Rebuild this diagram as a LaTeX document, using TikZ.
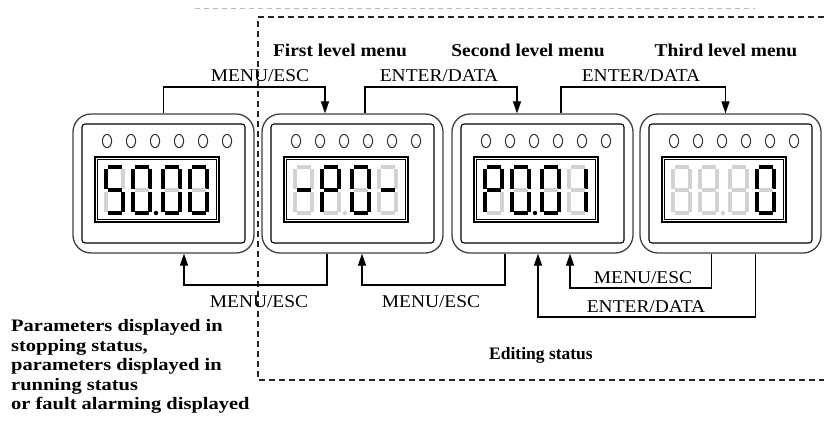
\documentclass[tikz,border=0pt]{standalone}
\usepackage{fontspec}
\setmainfont{Liberation Serif}
\usetikzlibrary{arrows.meta,calc}

\tikzset{
  devbox/.style={draw=black!75, line width=1.3pt, rounded corners=18pt, minimum width=181pt, minimum height=139pt, inner sep=0pt},
  panel/.style={draw=black, line width=1.1pt, rounded corners=3pt},
  led/.style={draw=black!80, line width=1pt},
  conn/.style={draw=black, line width=1.2pt},
  arr/.style={-{Triangle[length=12pt,width=8pt]}},
  lbl/.style={font=\fontsize{18}{20}\selectfont, inner sep=0pt},
  ttl/.style={font=\fontsize{18}{20}\selectfont\bfseries, inner sep=0pt},
  note/.style={font=\fontsize{17.5}{19.5}\selectfont\bfseries, inner sep=0pt},
  sk/.style={fill=black},
  sg/.style={fill=gray!35},
  dashbox/.style={draw=black!85, line width=1.4pt, dash pattern=on 6pt off 4pt},
}

\newcommand\sx[1]{\scalebox{1.08}[1]{#1}}

\newcommand\devpanel[2]{%
  \node[devbox] (#1) at ({#2+90.5},183.5) {};
  \draw[panel] ({#2+9},124) rectangle ({#2+172},243);
  \foreach \k in {0,...,5} \draw[led] ({#2+34+24*\k},141) ellipse (4.6 and 6.6);
  \draw[black, line width=1.8pt] ({#2+22},157) rectangle ({#2+146},222);
  \draw[black, line width=0.7pt] ({#2+24.5},159.5) rectangle ({#2+143.5},219.5);
}

% x0, y0, a b c d e f g
\newcommand\sevenseg[9]{%
  \fill[#3] ({#1+1.5},{#2-1.9}) rectangle ({#1+15.5},{#2+1.9});
  \fill[#4] ({#1+15.1},{#2+1.5}) rectangle ({#1+18.9},{#2+21.5});
  \fill[#5] ({#1+15.1},{#2+24.5}) rectangle ({#1+18.9},{#2+44.5});
  \fill[#6] ({#1+1.5},{#2+44.1}) rectangle ({#1+15.5},{#2+47.9});
  \fill[#7] ({#1-1.9},{#2+24.5}) rectangle ({#1+1.9},{#2+44.5});
  \fill[#8] ({#1-1.9},{#2+1.5}) rectangle ({#1+1.9},{#2+21.5});
  \fill[#9] ({#1+1.5},{#2+21.1}) rectangle ({#1+15.5},{#2+24.9});
}

\begin{document}
\begin{tikzpicture}[x=1pt,y=-1pt]
\useasboundingbox (0,0) rectangle (824,426);

% frames
\draw[gray!55, line width=0.8pt, dash pattern=on 5pt off 4pt] (195,8) -- (755,8);
\draw[dashbox] (824,17) -- (258,17) -- (258,380) -- (824,380);

% devices
\devpanel{b1}{73}
\devpanel{b2}{262}
\devpanel{b3}{452}
\devpanel{b4}{640}

% box 1: 50.00
\sevenseg{106}{167}{sk}{sg}{sk}{sk}{sg}{sk}{sk}
\sevenseg{133}{167}{sk}{sk}{sk}{sk}{sk}{sk}{sg}
\fill[black] (156,213) circle (2.2);
\sevenseg{163}{167}{sk}{sk}{sk}{sk}{sk}{sk}{sg}
\sevenseg{190}{167}{sk}{sk}{sk}{sk}{sk}{sk}{sg}

% box 2: -P0-
\sevenseg{295}{167}{sg}{sg}{sg}{sg}{sg}{sg}{sk}
\sevenseg{322}{167}{sk}{sk}{sg}{sg}{sk}{sk}{sk}
\fill[gray!35] (345,213) circle (2.2);
\sevenseg{352}{167}{sk}{sk}{sk}{sk}{sk}{sk}{sg}
\sevenseg{379}{167}{sg}{sg}{sg}{sg}{sg}{sg}{sk}

% box 3: P0.01
\sevenseg{485}{167}{sk}{sk}{sg}{sg}{sk}{sk}{sk}
\sevenseg{512}{167}{sk}{sk}{sk}{sk}{sk}{sk}{sg}
\fill[black] (535,213) circle (2.2);
\sevenseg{542}{167}{sk}{sk}{sk}{sk}{sk}{sk}{sg}
\sevenseg{569}{167}{sg}{sk}{sk}{sg}{sg}{sg}{sg}

% box 4: 88.80 with last digit 0
\sevenseg{673}{167}{sg}{sg}{sg}{sg}{sg}{sg}{sg}
\sevenseg{700}{167}{sg}{sg}{sg}{sg}{sg}{sg}{sg}
\fill[gray!35] (723,213) circle (2.2);
\sevenseg{730}{167}{sg}{sg}{sg}{sg}{sg}{sg}{sg}
\sevenseg{757}{167}{sk}{sk}{sk}{sk}{sk}{sk}{sg}

% levels
\coordinate (ytop) at (0,87);
\coordinate (yb1) at (0,285);
\coordinate (yb2) at (0,288);
\coordinate (yb3) at (0,317);

% top connectors
\coordinate (e1) at ($(b2.north)+(-27.5,0)$);
\draw[conn,arr] (b1.north) -- (b1.north |- ytop) -| (e1);
\coordinate (s2) at ($(b2.north)+(12.5,0)$);
\coordinate (e2) at ($(b3.north)+(-25.5,0)$);
\draw[conn,arr] (s2) -- (s2 |- ytop) -| (e2);
\coordinate (s3) at ($(b3.north)+(18.5,0)$);
\coordinate (e3) at ($(b4.north)+(-5,0)$);
\draw[conn,arr] (s3) -- (s3 |- ytop) -| (e3);

% bottom connectors
\coordinate (u1) at ($(b2.south)+(-25.5,0)$);
\coordinate (v1) at ($(b1.south)+(20.5,0)$);
\draw[conn,arr] (u1) -- (u1 |- yb1) -| (v1);
\coordinate (u2) at ($(b3.south)+(-37.5,0)$);
\coordinate (v2) at ($(b2.south)+(9.5,0)$);
\draw[conn,arr] (u2) -- (u2 |- yb1) -| (v2);
\coordinate (u3) at ($(b4.south)+(-19,0)$);
\coordinate (v3) at ($(b3.south)+(27.5,0)$);
\draw[conn,arr] (u3) -- (u3 |- yb2) -| (v3);
\coordinate (u4) at ($(b4.south)+(25,0)$);
\coordinate (v4) at ($(b3.south)+(-4.5,0)$);
\draw[conn,arr] (u4) -- (u4 |- yb3) -| (v4);

% labels
\node[ttl] (t1) at (340,50) {\sx{First level menu}};
\node[ttl] (t2) at (528,50) {\sx{Second level menu}};
\node[ttl] (t3) at (726,50) {\sx{Third level menu}};

\node[lbl] (l1) at (260,76) {\sx{MENU/ESC}};
\node[lbl] (l2) at (439,76) {\sx{ENTER/DATA}};
\node[lbl] (l3) at (641,76) {\sx{ENTER/DATA}};

\node[lbl] (l4) at (259,302) {\sx{MENU/ESC}};
\node[lbl] (l5) at (431,302) {\sx{MENU/ESC}};
\node[lbl] (l6) at (643,278) {\sx{MENU/ESC}};
\node[lbl] (l7) at (646,307) {\sx{ENTER/DATA}};

\node[note] (ed) at (541,355) {\scalebox{1.0}[1]{Editing status}};

\node[note, anchor=north west] (txt) at (11,318) {\scalebox{1.17}[1]{\begin{tabular}{@{}l@{}}Parameters displayed in\\ stopping status,\\ parameters displayed in\\ running status\\ or fault alarming displayed\end{tabular}}};
\end{tikzpicture}
\end{document}
